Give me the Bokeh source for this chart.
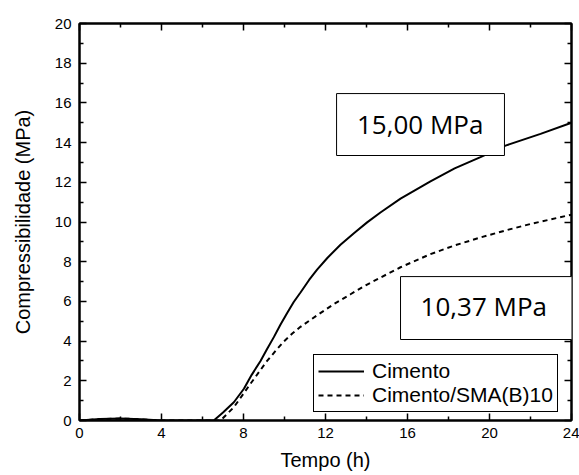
from bokeh.plotting import figure
from bokeh.models import (Range1d, LinearAxis, FixedTicker, BoxAnnotation,
                          Label, Legend, LegendItem)
from bokeh.embed import file_html
from bokeh.resources import INLINE

# Compressive strength development over time
tempo_cimento = [0, 1, 2, 3, 4, 5, 6, 6.55, 7.0, 7.53, 8.02, 8.4, 8.83, 9.15,
                 9.48, 9.8, 10.13, 10.45, 10.78, 11.2, 11.59, 12.1, 12.73,
                 13.4, 14.03, 14.68, 15.66, 17.12, 18.3, 19.56, 20.78, 22.49,
                 24]
res_cimento = [0, 0.07, 0.1, 0.06, 0.0, 0.0, 0.0, 0.0, 0.4, 0.92, 1.6, 2.3,
               3.0, 3.6, 4.2, 4.82, 5.42, 5.97, 6.45, 7.08, 7.6, 8.2, 8.85,
               9.45, 9.98, 10.48, 11.18, 12.05, 12.7, 13.27, 13.85, 14.44,
               15.0]

tempo_sma = [0, 1, 2, 3, 4, 5, 6, 6.88, 7.53, 8.34, 9.15, 9.6, 9.97, 10.38,
             10.78, 11.59, 12.4, 13.22, 14.03, 14.68, 15.66, 17.12, 18.3,
             19.56, 20.8, 22.0, 24]
res_sma = [0, 0.07, 0.1, 0.06, 0, 0, 0, 0.0, 0.67, 1.85, 3.0, 3.55, 3.98,
           4.38, 4.72, 5.3, 5.86, 6.36, 6.85, 7.2, 7.72, 8.38, 8.82, 9.22,
           9.58, 9.9, 10.37]

series_labels = ["Cimento", "Cimento/SMA(B)10"]
final_labels = ["15,00 MPa", "10,37 MPa"]

x_major = [0, 4, 8, 12, 16, 20, 24]
x_minor = [2, 6, 10, 14, 18, 22]
y_major = [0, 2, 4, 6, 8, 10, 12, 14, 16, 18, 20]
y_minor = [1, 3, 5, 7, 9, 11, 13, 15, 17, 19]

FONT = "Liberation Sans"

p = figure(width=579, height=475, output_backend="svg", toolbar_location=None,
           x_range=Range1d(0, 24), y_range=Range1d(0, 20),
           min_border_left=79, min_border_right=8, min_border_top=23,
           min_border_bottom=55, x_axis_label="Tempo (h)",
           y_axis_label="Compressibilidade (MPa)")
p.xgrid.visible = False
p.ygrid.visible = False
p.outline_line_color = "black"
p.outline_line_width = 2
p.background_fill_color = "white"
p.border_fill_color = "white"


def style_axis(ax, major, minor, show_labels=True):
    ax.ticker = FixedTicker(ticks=major, minor_ticks=minor)
    ax.axis_line_color = "black"
    ax.axis_line_width = 2
    ax.major_tick_in = 7
    ax.major_tick_out = 0
    ax.minor_tick_in = 4
    ax.minor_tick_out = 0
    ax.major_tick_line_width = 1.5
    ax.minor_tick_line_width = 1.5
    ax.major_tick_line_color = "black"
    ax.minor_tick_line_color = "black"
    ax.major_label_text_font = FONT
    ax.major_label_text_font_size = "15px"
    ax.major_label_text_color = "black"
    if not show_labels:
        ax.major_label_overrides = {v: "" for v in major}
        ax.major_label_standoff = 0
    ax.axis_label_text_font = FONT
    ax.axis_label_text_font_style = "normal"
    ax.axis_label_text_font_size = "20px"
    ax.axis_label_text_color = "black"


style_axis(p.xaxis[0], x_major, x_minor)
style_axis(p.yaxis[0], y_major, y_minor)
p.xaxis[0].major_label_standoff = 7
p.xaxis[0].axis_label_standoff = 8
p.yaxis[0].major_label_standoff = 8
p.yaxis[0].axis_label_standoff = 18

top_axis = LinearAxis()
style_axis(top_axis, x_major, x_minor, show_labels=False)
p.add_layout(top_axis, "above")
right_axis = LinearAxis()
style_axis(right_axis, y_major, y_minor, show_labels=False)
p.add_layout(right_axis, "right")

r1 = p.line(tempo_cimento, res_cimento, line_color="black", line_width=2)
r2 = p.line(tempo_sma, res_sma, line_color="black", line_width=2,
            line_dash="5 4")

legend = Legend(items=[LegendItem(label=series_labels[0], renderers=[r1]),
                       LegendItem(label=series_labels[1], renderers=[r2])],
                location=(234, 8), margin=0, padding=4, spacing=0,
                border_line_color="black", border_line_width=1,
                border_line_alpha=1,
                background_fill_color="white", background_fill_alpha=1,
                label_text_font=FONT, label_text_font_size="21px",
                label_text_color="black",
                glyph_width=46, glyph_height=22, label_height=22,
                label_standoff=8)
p.add_layout(legend)

# Boxes carrying the final strength values
box1 = BoxAnnotation(left=12.54, right=20.73, bottom=13.35, top=16.47,
                     fill_color="white", fill_alpha=1, line_color="black",
                     line_alpha=1, line_width=1)
box2 = BoxAnnotation(left=15.66, right=24.39, bottom=4.08, top=7.25,
                     fill_color="white", fill_alpha=1, line_color="black",
                     line_alpha=1, line_width=1)
p.add_layout(box1)
p.add_layout(box2)

lab1 = Label(x=16.62, y=14.96, text=final_labels[0], text_align="center",
             text_baseline="middle", text_font="Open Sans",
             text_font_size="26px", text_color="black")
lab2 = Label(x=19.72, y=5.77, text=final_labels[1], text_align="center",
             text_baseline="middle", text_font="Open Sans",
             text_font_size="26px", text_color="black")
p.add_layout(lab1)
p.add_layout(lab2)

open("out.html", "w").write(file_html(p, INLINE))
